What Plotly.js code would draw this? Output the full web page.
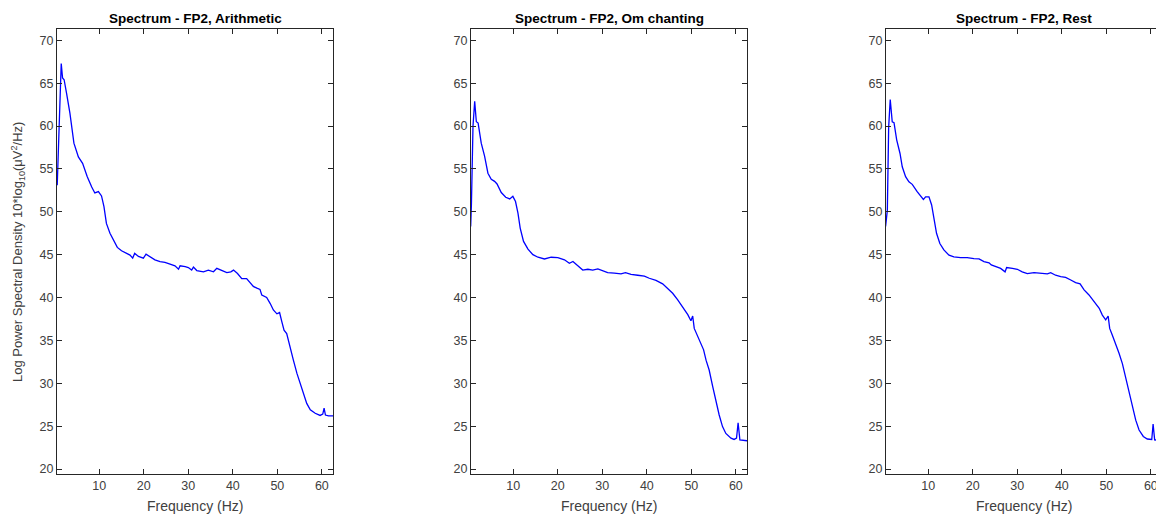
<!DOCTYPE html>
<html>
<head>
<meta charset="utf-8">
<script src="https://cdn.plot.ly/plotly-3.0.1.min.js"></script>
<style>
html,body{margin:0;padding:0;overflow:hidden;background:#fff;}
#chart{width:1170px;height:514px;}
</style>
</head>
<body>
<div id="chart"></div>
<script>
// ---- Data ----
const titles = ["Spectrum - FP2, Arithmetic", "Spectrum - FP2, Om chanting", "Spectrum - FP2, Rest"];
const xTitle = "Frequency (Hz)";
const yTitle = "Log Power Spectral Density 10*log<sub>10</sub>(μV<sup>2</sup>/Hz)";
const xTicks = [10, 20, 30, 40, 50, 60];
const yTicks = [20, 25, 30, 35, 40, 45, 50, 55, 60, 65, 70];

const freqArith = [0.55,1.0,1.45,1.75,2.1,2.65,3.4,4.3,5.3,6.25,7.3,8.3,9.0,9.8,10.5,11.05,11.6,12.4,13.15,14.05,15.0,16.0,16.9,17.5,17.95,18.8,19.9,20.5,21.4,22.5,23.65,24.75,25.9,27.0,27.8,28.15,29.3,30.0,30.75,31.15,31.9,33.4,34.5,35.65,36.4,37.5,38.65,39.55,40.15,41.05,42.0,43.1,43.7,44.6,45.4,46.1,46.5,47.6,48.4,49.1,49.9,50.5,51.0,51.5,52.1,52.9,53.6,54.4,55.1,55.9,56.6,57.4,58.5,59.6,60.2,60.5,60.8,61.5,62.55];
const psdArith  = [53.1,59.9,67.3,65.6,65.4,63.8,61.5,58.0,56.4,55.65,54.1,52.9,52.2,52.35,51.85,50.6,48.65,47.5,46.7,45.85,45.45,45.2,44.95,44.6,45.15,44.8,44.6,45.05,44.8,44.4,44.2,44.1,43.9,43.7,43.3,43.7,43.6,43.5,43.2,43.55,43.15,43.0,43.2,43.0,43.4,43.2,42.9,43.0,43.2,42.8,42.2,42.2,41.85,41.3,41.1,40.95,40.3,40.0,39.3,38.55,38.1,38.25,37.2,36.2,35.8,34.3,32.7,31.15,30.0,28.8,27.65,26.9,26.5,26.25,26.4,27.1,26.3,26.2,26.2];

const freqOm = [0.43,0.6,0.95,1.33,1.7,2.1,2.8,3.55,4.3,5.05,5.8,6.35,7.3,8.3,9.2,9.9,10.5,11.05,11.55,12.3,13.3,14.4,15.55,17.0,18.5,20.0,21.5,22.6,23.4,24.5,25.6,26.75,27.85,29.0,30.1,31.2,32.7,34.2,35.2,36.45,37.95,39.45,40.55,42.05,43.55,44.7,45.8,46.9,48.05,49.2,49.9,50.3,50.65,51.4,52.15,52.75,53.3,54.0,54.8,55.5,56.25,57.0,57.75,58.9,59.6,60.15,60.5,60.9,62.5];
const psdOm  = [48.3,51.0,60.0,62.9,60.5,60.35,58.0,56.5,54.5,53.8,53.55,53.25,52.25,51.7,51.5,51.8,51.2,49.85,48.1,46.55,45.65,45.0,44.7,44.5,44.7,44.65,44.4,44.0,44.2,43.7,43.2,43.3,43.2,43.35,43.15,42.9,42.85,42.75,42.9,42.7,42.6,42.5,42.25,42.0,41.6,41.0,40.5,39.75,38.9,38.0,37.3,37.85,36.4,35.45,34.5,33.9,32.7,31.55,29.6,27.85,26.3,24.95,24.15,23.6,23.45,23.6,25.4,23.4,23.3];

const freqRest = [0.41,0.8,1.1,1.45,1.9,2.3,2.9,3.65,4.15,4.9,5.65,6.4,7.5,8.3,8.9,9.4,10.15,10.75,11.25,11.85,12.6,13.5,14.65,15.75,17.25,18.75,20.25,21.4,22.5,23.65,24.15,25.15,26.25,27.25,27.6,28.9,30.0,31.1,32.25,33.75,35.25,36.75,37.5,38.6,39.75,40.85,42.0,43.1,44.1,45.0,46.1,47.25,48.4,49.1,49.85,50.4,50.75,51.35,52.1,52.85,53.6,54.35,55.1,55.85,56.6,57.35,58.3,59.2,59.95,60.2,60.5,60.85,62.5];
const psdRest  = [48.3,50.2,59.9,63.1,60.5,60.4,58.4,56.8,55.25,54.1,53.5,53.2,52.35,51.75,51.45,51.75,51.75,50.8,49.45,47.5,46.3,45.55,44.95,44.75,44.65,44.65,44.55,44.5,44.2,44.05,43.8,43.6,43.4,43.0,43.5,43.4,43.3,43.0,42.8,42.9,42.8,42.75,42.9,42.6,42.45,42.35,42.05,41.75,41.6,40.9,40.3,39.5,38.75,37.95,37.4,37.85,36.4,35.6,34.65,33.5,32.3,30.6,29.0,27.45,25.7,24.55,23.8,23.5,23.4,23.45,25.25,23.4,23.3];

const xRange = [0.5, 62.5];
const yRange = [19.42, 71.32];

// ---- Layout geometry (pixels) ----
const W = 1170, H = 514;
const panelLefts = [57, 471, 886];
const plotW = 276;
const plotTop = 29, plotBottom = 474;

const freqs = [freqArith, freqOm, freqRest];
const psds = [psdArith, psdOm, psdRest];

const fontFam = "Liberation Sans, Arial, sans-serif";
const axColor = "#262626";

const traces = [];
const layout = {
  width: W, height: H,
  margin: {l: 0, r: 0, t: 0, b: 0},
  paper_bgcolor: "#ffffff",
  plot_bgcolor: "#ffffff",
  showlegend: false,
  font: {family: fontFam, color: axColor},
  annotations: []
};

for (let i = 0; i < 3; i++) {
  const s = i === 0 ? "" : String(i + 1);
  traces.push({
    x: freqs[i], y: psds[i],
    type: "scatter", mode: "lines",
    line: {color: "#0000ff", width: 1.3},
    xaxis: "x" + s, yaxis: "y" + s,
    hoverinfo: "x+y"
  });
  const common = {
    showline: true, linecolor: axColor, linewidth: 1,
    mirror: "ticks", ticks: "inside", ticklen: 5, tickwidth: 1, tickcolor: axColor,
    showgrid: false, zeroline: false, automargin: false,
    tickfont: {family: fontFam, size: 12.5, color: "#404040"}
  };
  layout["xaxis" + s] = Object.assign({}, common, {
    domain: [panelLefts[i] / W, (panelLefts[i] + plotW) / W],
    range: xRange, tickvals: xTicks, anchor: "y" + s
  });
  layout["yaxis" + s] = Object.assign({}, common, {
    domain: [1 - plotBottom / H, 1 - plotTop / H],
    range: yRange, tickvals: yTicks, anchor: "x" + s
  });
  const cx = (panelLefts[i] + plotW / 2) / W;
  layout.annotations.push({
    text: "<b>" + titles[i] + "</b>", xref: "paper", yref: "paper",
    x: cx, y: 1 - 18.5 / H, xanchor: "center", yanchor: "middle",
    showarrow: false, font: {family: fontFam, size: 13.5, color: "#000000"}
  });
  layout.annotations.push({
    text: xTitle, xref: "paper", yref: "paper",
    x: cx, y: 1 - 506 / H, xanchor: "center", yanchor: "middle",
    showarrow: false, font: {family: fontFam, size: 14, color: "#404040"}
  });
}
layout.annotations.push({
  text: yTitle, xref: "paper", yref: "paper", textangle: -90,
  x: 18 / W, y: 1 - 252 / H, xanchor: "center", yanchor: "middle",
  showarrow: false, font: {family: fontFam, size: 13, color: "#404040"}
});

Plotly.newPlot("chart", traces, layout, {staticPlot: true, displayModeBar: false});
</script>
</body>
</html>
